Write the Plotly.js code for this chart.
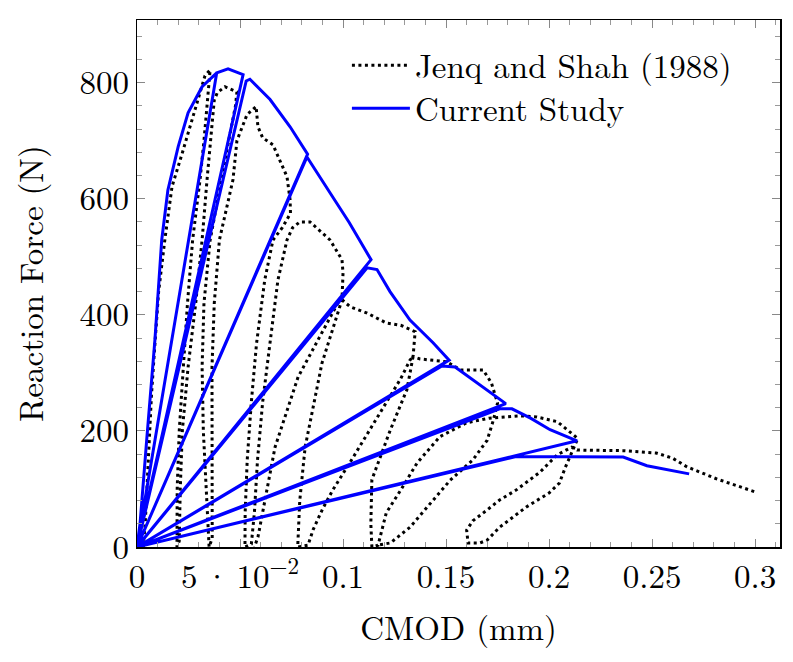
<!DOCTYPE html>
<html>
<head>
<meta charset="utf-8">
<script src="https://cdn.plot.ly/plotly-3.0.1.min.js"></script>
<style>html,body{margin:0;padding:0;background:#fff;}#chart{width:793px;height:662px;}</style>
</head>
<body>
<div id="chart"></div>
<script>
// Current Study (blue): envelope with secant unload/reload to origin
const currentX = [0,0.0015,0.0047,0.0087,0.012,0.0135,0.015,0.020,0.0248,0.0316,0.0387,
  0,0.0387,0.0442,0.0515,
  0,0.0530,0.0548,0.0646,0.0743,0.0828,
  0,0.0825,0.095,0.103,0.1136,
  0,0.1117,0.1165,0.1228,0.1325,0.1437,0.1515,
  0,0.148,0.1544,0.165,0.179,
  0,0.176,0.182,0.191,0.2005,0.2136,
  0,0.184,0.236,0.2475,0.268];
const currentY = [0,41,184,357,529,575,615,690,748,793,817,
  0,817,824,814,
  0,803,806,771,724,677,
  0,672,603,559,495,
  0,481,478,440,391,352,322,
  0,312,310,283,247,
  0,238,238,222,202,183,
  0,156,155,140,126];

// Jenq and Shah (1988) experimental (black dotted); null separates drawn pieces
const jenqX = [
  0.003,0.004,0.0055,0.007,0.0085,0.0105,0.0135,0.017,0.022,0.0257,0.0296,0.033,0.0355,
  0.0345,0.0325,0.0306,0.027,0.0245,0.0225,0.0205,0.0195,0.0192,0.0194,
  0.0205,0.021,0.022,0.0248,0.0285,0.0316,0.034,0.036,0.0375,0.039,0.0427,0.0485,
  0.0478,0.0445,0.041,0.0355,0.0325,0.0316,0.0322,0.0335,0.0345,0.035,
  0.0365,0.0364,0.0362,0.0364,0.0375,0.040,0.0466,0.0485,0.0534,0.0578,0.0587,0.061,0.066,0.0728,0.0743,0.0745,
  0.0705,0.066,0.062,0.058,0.0555,0.0535,0.0525,0.0524,
  0.0555,0.057,0.0585,0.061,0.0645,0.0684,0.0728,0.0755,0.079,0.084,0.0937,0.0995,0.1,0.0995,
  0.0898,0.0816,0.079,0.0782,0.078,
  0.083,0.0855,0.090,0.095,0.105,0.118,0.128,0.1325,0.134,
  null,
  0.0995,0.1034,0.1117,0.121,0.128,0.135,0.134,
  0.1374,0.1505,0.157,0.168,0.172,0.175,
  0.173,0.17,0.163,0.152,0.144,0.1325,0.123,0.1165,
  null,
  0.0976,0.0782,0.067,0.0587,0.057,
  null,
  0.134,0.131,0.123,0.114,0.1135,0.114,
  0.117,0.121,0.128,0.136,0.147,0.16,0.171,0.186,0.194,0.204,0.2136,
  0.2136,0.208,0.205,0.2,0.189,0.176,0.17,0.1665,0.1607,
  0.160,0.163,0.17,0.176,0.184,0.1956,0.204,0.211,0.2136,0.236,0.252,0.260,0.267,0.2816,0.300];
const jenqY = [
  0,41,150,260,340,440,529,621,679,724,771,812,822,
  780,700,633,529,420,310,200,100,30,0,
  10,100,200,310,420,529,633,720,770,783,793,784,
  760,700,633,529,420,310,200,100,30,0,
  15,100,200,310,420,529,633,700,745,759,724,705,693,638,598,575,
  550,529,460,350,250,150,60,0,
  5,60,150,250,350,460,529,550,560,560,529,495,472,426,
  317,172,80,12,0,
  3,30,65,98,155,231,290,322,328,
  null,
  426,414,403,386,382,371,328,
  324,319,305,305,283,248,
  219,184,150,115,81,34,7,3,
  null,
  421,293,172,17,0,
  null,
  328,271,202,116,40,0,
  3,59,98,145,190,214,222,226,224,216,188,
  184,138,110,93,69,34,12,7,7,
  29,45,64,81,98,129,159,172,167,166,162,153,138,117,95];

const xTickVals = [0,0.05,0.1,0.15,0.2,0.25,0.3];
const xTickText = ['0','5\u2009·\u200910<sup>−2</sup>','0.1','0.15','0.2','0.25','0.3'];
const yTickVals = [0,200,400,600,800];
const yTickText = ['0','200','400','600','800'];

const traces = [
  {x: jenqX, y: jenqY, type:'scatter', mode:'lines', name:'Jenq and Shah (1988)', connectgaps:false,
   line:{color:'#000', width:3, dash:'3px,3.5px'}},
  {x: currentX, y: currentY, type:'scatter', mode:'lines', name:'Current Study',
   line:{color:'#0000ff', width:3}}
];

const fam = '"Latin Modern Roman", "CMU Serif", "Liberation Serif", serif';
const tickFont = {family:fam, size:33, color:'#000'};
const titleFont = {family:fam, size:33, color:'#000'};

const layout = {
  width:793, height:662,
  margin:{l:137, r:13, t:20, b:115},
  paper_bgcolor:'#fff', plot_bgcolor:'#fff',
  font: tickFont,
  showlegend:true,
  legend:{x:0.37, y:0.967, xanchor:'left', yanchor:'top', bgcolor:'rgba(255,255,255,0)', borderwidth:0,
    font:{family:fam, size:33, color:'#000'}, tracegroupgap:0},
  xaxis:{range:[0,0.3121], showgrid:false, zeroline:false, showline:true, linecolor:'#000', linewidth:1.5, mirror:'allticks',
    ticks:'inside', ticklen:8, tickcolor:'#888', tickwidth:1,
    tickvals:xTickVals, ticktext:xTickText,
    minor:{dtick:0.01, ticklen:5, tickcolor:'#999', ticks:'inside'},
    title:{text:'CMOD (mm)', font:titleFont, standoff:20}, tickfont:tickFont},
  yaxis:{range:[0,908], showgrid:false, zeroline:false, showline:true, linecolor:'#000', linewidth:1.5, mirror:'allticks',
    ticks:'inside', ticklen:8, tickcolor:'#888', tickwidth:1,
    tickvals:yTickVals, ticktext:yTickText,
    minor:{dtick:40, ticklen:5, tickcolor:'#999', ticks:'inside'},
    title:{text:'Reaction Force (N)', font:titleFont, standoff:26}, tickfont:tickFont}
};

function restyleLegend(gd){
  // let the longer line samples show outside the legend clip box
  gd.querySelectorAll('.legend .scrollbox, .legend').forEach(function(g){ g.removeAttribute('clip-path'); });
  gd.querySelectorAll('.legendlines path').forEach(function(p){ p.setAttribute('d','M-23,0h58'); });
  var items = gd.querySelectorAll('.legend .traces');
  if(items.length > 1 && !items[1].getAttribute('data-moved')){
    var t = items[1].getAttribute('transform') || '';
    var m = /translate\(([-\d.]+)[ ,]+([-\d.]+)\)/.exec(t);
    if(m){ items[1].setAttribute('transform','translate(' + m[1] + ',' + (parseFloat(m[2]) - 3) + ')'); items[1].setAttribute('data-moved','1'); }
  }
}
const gdiv = document.getElementById('chart');
Plotly.newPlot(gdiv, traces, layout, {displayModeBar:false, staticPlot:true}).then(function(gd){
  restyleLegend(gd);
  gd.on('plotly_afterplot', function(){ restyleLegend(gd); });
  setTimeout(function(){ restyleLegend(gd); }, 50);
});
try { restyleLegend(gdiv); } catch(e) {}
</script>
</body>
</html>
